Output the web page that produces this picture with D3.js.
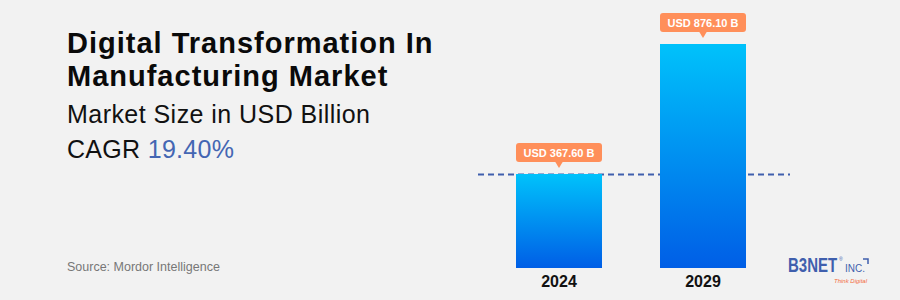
<!DOCTYPE html>
<html lang="en">
<head>
<meta charset="UTF-8">
<title>Digital Transformation In Manufacturing Market</title>
<script src="https://d3js.org/d3.v7.min.js"></script>
<style>
  body { margin: 0; background: #f2f2f2; }
  svg { display: block; font-family: "Liberation Sans", Arial, sans-serif; }
</style>
</head>
<body>
<div id="chart"></div>
<script>
    // data
    var years = ["2024", "2029"];
    var values = [367.60, 876.10];
    var valueLabels = ["USD 367.60 B", "USD 876.10 B"];
    var titleLines = ["Digital Transformation In", "Manufacturing Market"];
    var cagr = "19.40%";

    var width = 900, height = 300;
    var svg = d3.select("#chart").append("svg")
        .attr("width", width)
        .attr("height", height);

    svg.append("rect")
        .attr("width", width)
        .attr("height", height)
        .attr("fill", "#f2f2f2");

    // gradient for bars
    var grad = svg.append("defs").append("linearGradient")
        .attr("id", "barGrad")
        .attr("x1", 0).attr("y1", 0).attr("x2", 0).attr("y2", 1);
    grad.append("stop").attr("offset", "0%").attr("stop-color", "#00c2fb");
    grad.append("stop").attr("offset", "100%").attr("stop-color", "#005ee6");

    // scales
    var x = d3.scaleBand()
        .domain(years)
        .range([516, 746])
        .paddingInner(0.4028)
        .paddingOuter(0);
    var y = d3.scaleLinear()
        .domain([0, d3.max(values)])
        .range([268, 44]);

    // dashed reference line at first value
    svg.append("line")
        .attr("x1", 478)
        .attr("x2", 790)
        .attr("y1", y(values[0]) + 0.5)
        .attr("y2", y(values[0]) + 0.5)
        .attr("stroke", "#3f5fad")
        .attr("stroke-width", 2)
        .attr("stroke-dasharray", "6,4");

    // bars
    svg.selectAll("rect.bar")
        .data(values)
        .enter()
        .append("rect")
        .attr("class", "bar")
        .attr("x", (d, i) => x(years[i]))
        .attr("y", d => y(d))
        .attr("width", x.bandwidth())
        .attr("height", d => y(0) - y(d))
        .attr("fill", "url(#barGrad)");

    // value callouts
    var callouts = svg.selectAll("g.callout")
        .data(values)
        .enter()
        .append("g")
        .attr("class", "callout")
        .attr("transform", (d, i) => "translate(" + x(years[i]) + "," + y(d) + ")");

    callouts.append("rect")
        .attr("x", 0)
        .attr("y", -31)
        .attr("width", x.bandwidth())
        .attr("height", 19)
        .attr("rx", 3)
        .attr("fill", "#ff8f5a");

    callouts.append("path")
        .attr("d", () => {
            var c = x.bandwidth() / 2;
            return "M" + (c - 4) + ",-12.5L" + c + ",-6L" + (c + 4) + ",-12.5Z";
        })
        .attr("fill", "#ff8f5a");

    callouts.append("text")
        .attr("x", x.bandwidth() / 2)
        .attr("y", -17.5)
        .attr("text-anchor", "middle")
        .attr("fill", "#ffffff")
        .attr("font-weight", "bold")
        .attr("font-size", "11px")
        .text((d, i) => valueLabels[i]);

    // x axis labels
    svg.selectAll("text.year")
        .data(years)
        .enter()
        .append("text")
        .attr("class", "year")
        .attr("x", d => x(d) + x.bandwidth() / 2)
        .attr("y", 287)
        .attr("text-anchor", "middle")
        .attr("font-weight", "bold")
        .attr("font-size", "16px")
        .attr("fill", "#111")
        .text(d => d);

    // title block
    svg.selectAll("text.title")
        .data(titleLines)
        .enter()
        .append("text")
        .attr("class", "title")
        .attr("x", 67)
        .attr("y", (d, i) => 53 + i * 32.5)
        .attr("font-weight", "bold")
        .attr("font-size", "29px")
        .attr("letter-spacing", "1px")
        .attr("fill", "#0a0a0a")
        .text(d => d);

    svg.append("text")
        .attr("x", 67)
        .attr("y", 123)
        .attr("font-size", "25px")
        .attr("letter-spacing", "0.45px")
        .attr("fill", "#111")
        .text("Market Size in USD Billion");

    var cagrText = svg.append("text")
        .attr("x", 67)
        .attr("y", 158)
        .attr("font-size", "25px")
        .attr("letter-spacing", "0.3px")
        .attr("fill", "#111");
    cagrText.append("tspan").text("CAGR ");
    cagrText.append("tspan").attr("fill", "#4466b3").text(cagr);

    svg.append("text")
        .attr("x", 67)
        .attr("y", 271)
        .attr("font-size", "12.5px")
        .attr("fill", "#777")
        .text("Source: Mordor Intelligence");

    // logo
    var logo = svg.append("g").attr("transform", "translate(788,272)");
    logo.append("text")
        .attr("transform", "scale(1,1.3)")
        .attr("font-size", "15px")
        .attr("font-weight", "bold")
        .attr("fill", "#3f5fad")
        .text("B3NET");
    logo.append("text")
        .attr("x", 51)
        .attr("y", -11)
        .attr("font-size", "5px")
        .attr("fill", "#3f5fad")
        .text("®");
    logo.append("text")
        .attr("x", 57)
        .attr("font-size", "10px")
        .attr("fill", "#3f5fad")
        .text("INC.");
    logo.append("path")
        .attr("d", "M75,-13L80,-13L80,-8")
        .attr("fill", "none")
        .attr("stroke", "#3f5fad")
        .attr("stroke-width", 1.5);
    logo.append("text")
        .attr("x", 46)
        .attr("y", 11)
        .attr("font-size", "6px")
        .attr("font-style", "italic")
        .attr("fill", "#f26a3c")
        .text("Think Digital");
</script>
</body>
</html>
